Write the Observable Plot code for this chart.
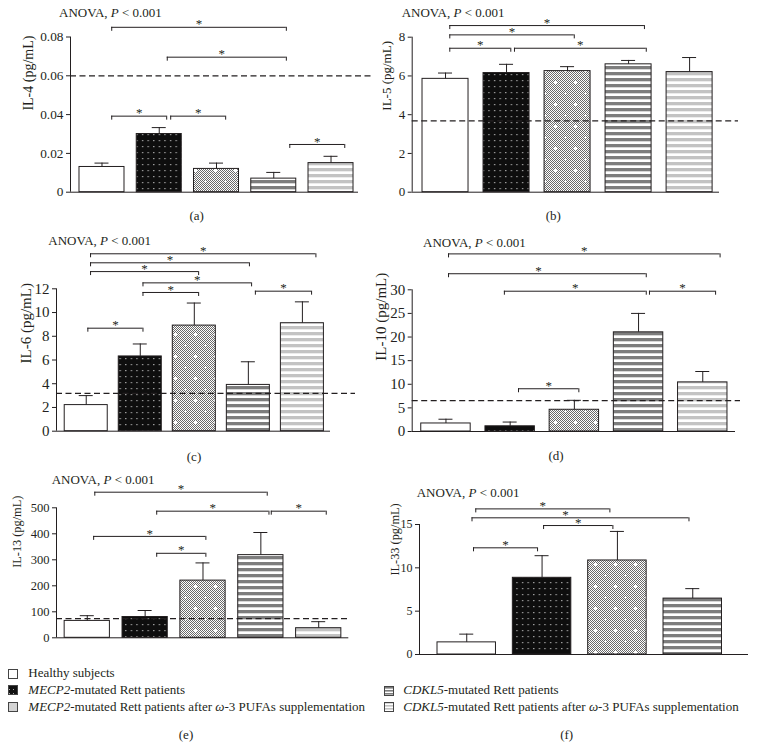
<!DOCTYPE html>
<html><head><meta charset="utf-8">
<script src="https://cdn.jsdelivr.net/npm/d3@7"></script>
<script src="https://cdn.jsdelivr.net/npm/@observablehq/plot@0.6"></script>
<style>
html,body{margin:0;padding:0;background:#fff;}
#root{position:relative;width:760px;height:747px;overflow:hidden;font-family:"Liberation Serif","Times New Roman",serif;}
#root svg{position:absolute;}
</style></head><body>
<div id="root"></div>
<script>
// ---------------- DATA ----------------
const groups = [
  "Healthy subjects",
  "MECP2-mutated Rett patients",
  "MECP2-mutated Rett patients after ω-3 PUFAs supplementation",
  "CDKL5-mutated Rett patients",
  "CDKL5-mutated Rett patients after ω-3 PUFAs supplementation"
];
const panelLetters = ["(a)", "(b)", "(c)", "(d)", "(e)", "(f)"];
const anovaText = "ANOVA, P < 0.001";

// bracket = [from group position, to group position, level, (optional) asterisk position]
const il4Label = "IL-4 (pg/mL)";
const il4Mean = [0.013, 0.030, 0.012, 0.007, 0.015];
const il4Sem  = [0.002, 0.0033, 0.003, 0.0032, 0.0035];
const il4Ref  = 0.06;
const il4Ticks = [0, 0.02, 0.04, 0.06, 0.08];
const il4Brackets = [[1.17, 4.22, 0.085], [2.14, 4.22, 0.0696, 3.09], [1.17, 2.13, 0.0392], [2.2, 3.16, 0.0392], [4.28, 5.24, 0.0246]];

const il5Label = "IL-5 (pg/mL)";
const il5Mean = [5.85, 6.15, 6.25, 6.6, 6.2];
const il5Sem  = [0.3, 0.45, 0.23, 0.2, 0.75];
const il5Ref  = 3.68;
const il5Ticks = [0, 2, 4, 6, 8];
const il5Brackets = [[1.07, 4.26, 8.6], [1.07, 3.11, 8.12], [1.07, 2.07, 7.43], [2.13, 4.29, 7.43]];

const il6Label = "IL-6 (pg/mL)";
const il6Mean = [2.2, 6.3, 8.9, 3.9, 9.1];
const il6Sem  = [0.8, 1.05, 1.9, 1.95, 1.8];
const il6Ref  = 3.18;
const il6Ticks = [0, 2, 4, 6, 8, 10, 12];
const il6Brackets = [[1.08, 5.25, 14.95], [1.08, 4.02, 14.19], [1.08, 3.08, 13.45], [2.05, 4.06, 12.5], [2.05, 3.08, 11.69], [4.13, 5.17, 11.8], [1.03, 2.05, 8.68]];

const il10Label = "IL-10 (pg/mL)";
const il10Mean = [1.7, 1.1, 4.6, 21.0, 10.4];
const il10Sem  = [0.9, 0.9, 2.0, 4.0, 2.3];
const il10Ref  = 6.55;
const il10Ticks = [0, 5, 10, 15, 20, 25, 30];
const il10Brackets = [[1.04, 5.27, 37.6], [1.04, 4.12, 33.4, 2.44], [1.91, 4.12, 29.7], [4.17, 5.2, 29.7], [2.13, 3.07, 9.05]];

const il13Label = "IL-13 (pg/mL)";
const il13Mean = [65, 80, 220, 318, 37];
const il13Sem  = [20, 25, 68, 87, 25];
const il13Ref  = 74;
const il13Ticks = [0, 100, 200, 300, 400, 500];
const il13Brackets = [[1.13, 4.11, 560], [2.2, 4.14, 487], [4.18, 5.13, 487], [1.11, 3.05, 390], [2.2, 3.05, 325]];

const il33Label = "IL-33 (pg/mL)";
const il33Mean = [1.4, 8.85, 10.85, 6.45];
const il33Sem  = [0.95, 2.55, 3.35, 1.15];
const il33Ref  = null;
const il33Ticks = [0, 5, 10, 15];
const il33Brackets = [[1.12, 2.9, 16.8], [1.07, 3.95, 15.77, 2.31], [2.02, 2.94, 14.88], [1.09, 1.94, 12.31]];

// ---------------- STYLE / LAYOUT ----------------
const ink = "#231f20";
const FONT = "'Liberation Serif','Times New Roman',serif";
const groupFills = ["#ffffff", "url(#pDots)", "url(#pCheck)", "url(#pDark)", "url(#pLight)"];
const swatchFills = ["#ffffff", "url(#pSwDots)", "#d3d3d3", "url(#pSwDark)", "url(#pSwLight)"];

const panels = [
  {label: il4Label, mean: il4Mean, sem: il4Sem, ref: il4Ref, ticks: il4Ticks, brackets: il4Brackets},
  {label: il5Label, mean: il5Mean, sem: il5Sem, ref: il5Ref, ticks: il5Ticks, brackets: il5Brackets},
  {label: il6Label, mean: il6Mean, sem: il6Sem, ref: il6Ref, ticks: il6Ticks, brackets: il6Brackets},
  {label: il10Label, mean: il10Mean, sem: il10Sem, ref: il10Ref, ticks: il10Ticks, brackets: il10Brackets},
  {label: il13Label, mean: il13Mean, sem: il13Sem, ref: il13Ref, ticks: il13Ticks, brackets: il13Brackets},
  {label: il33Label, mean: il33Mean, sem: il33Sem, ref: il33Ref, ticks: il33Ticks, brackets: il33Brackets}
];

const layouts = [
  {left: 0,   top: 0,   width: 380, height: 200, ml: 70,   mr: 22,   mt: 36.5, mb: 8.3, xd: [0.45, 5.48],  hw: 0.393, refExt: 14, labDx: -41.7, labDy: -4,  tickFs: 13.3, labFs: 14,   anova: [59, 17],       cap: [196.7, 220]},
  {left: 380, top: 0,   width: 380, height: 200, ml: 31.7, mr: 41,   mt: 36.7, mb: 8.3, xd: [0.454, 5.49], hw: 0.377, refExt: 19, labDx: -25,   labDy: -4,  tickFs: 13,   labFs: 13,   anova: [401.7, 17],    cap: [553.3, 220]},
  {left: 0,   top: 230, width: 380, height: 210, ml: 56,   mr: 50,   mt: 58.3, mb: 9.3, xd: [0.45, 5.52],  hw: 0.398, refExt: 25, labDx: -30,   labDy: 3.5, tickFs: 15,   labFs: 15,   anova: [48.3, 245],    cap: [194, 461]},
  {left: 380, top: 230, width: 380, height: 210, ml: 31.7, mr: 25,   mt: 59.3, mb: 9,   xd: [0.474, 5.51], hw: 0.385, refExt: 5,  labDx: -31,   labDy: 0,   tickFs: 15,   labFs: 15,   anova: [423, 246.7],   cap: [556, 460]},
  {left: 0,   top: 460, width: 380, height: 185, ml: 56,   mr: 31.7, mt: 47.3, mb: 7.7, xd: [0.468, 5.52], hw: 0.391, refExt: 0,  labDx: -39.3, labDy: -5,  tickFs: 12.5, labFs: 12.3, anova: [51.7, 484],    cap: [186, 739]},
  {left: 380, top: 460, width: 380, height: 200, ml: 39,   mr: 12,   mt: 64,   mb: 6,   xd: [0.373, 4.74], hw: 0.388, refExt: 0,  labDx: -24,   labDy: -14, tickFs: 12,   labFs: 12.3, anova: [416.7, 496.7], cap: [566.7, 739]}
];

const legendPos = [
  {sx: 8.5, sy: 669.5, tx: 28.3, ty: 677.3},
  {sx: 8.5, sy: 685.5, tx: 28.3, ty: 694.3},
  {sx: 8.5, sy: 702.5, tx: 28.3, ty: 711},
  {sx: 384.5, sy: 686.5, tx: 403.3, ty: 694.3},
  {sx: 384.5, sy: 702.5, tx: 403.3, ty: 711}
];

// ---------------- OVERLAY + PATTERNS ----------------
const root = d3.select("#root");
const overlay = root.append("svg")
  .attr("width", 760).attr("height", 747)
  .style("left", "0px").style("top", "0px")
  .attr("font-family", FONT).attr("fill", ink);
const defs = overlay.append("defs");

function pattern(id, w, h) {
  return defs.append("pattern").attr("id", id).attr("patternUnits", "userSpaceOnUse").attr("width", w).attr("height", h);
}
{ // black with small light dots
  const p = pattern("pDots", 5.6, 6);
  p.append("rect").attr("width", 5.6).attr("height", 6).attr("fill", "#0e0e0e");
  p.append("rect").attr("x", 2).attr("y", 2).attr("width", 1.2).attr("height", 1.2).attr("fill", "#b8b8b8");
}
{ // fine checker with white crosses
  const W = 20, H = 22;
  const p = pattern("pCheck", W, H);
  p.append("rect").attr("width", W).attr("height", H).attr("fill", "#ffffff");
  for (let y = 0; y < H; y++) for (let x = y % 2; x < W; x += 2)
    p.append("rect").attr("x", x).attr("y", y).attr("width", 1).attr("height", 1).attr("fill", "#6a6a6a");
  for (const [cx, cy] of [[5, 5], [15, 16]]) {
    p.append("rect").attr("x", cx - 1).attr("y", cy).attr("width", 3).attr("height", 1).attr("fill", "#fff");
    p.append("rect").attr("x", cx).attr("y", cy - 1).attr("width", 1).attr("height", 3).attr("fill", "#fff");
  }
}
{ // dark stripes
  const p = pattern("pDark", 6, 6);
  p.append("rect").attr("width", 6).attr("height", 6).attr("fill", "#fff");
  p.append("rect").attr("width", 6).attr("height", 3.3).attr("fill", "#7d7d7d");
}
{ // light stripes
  const p = pattern("pLight", 6, 6);
  p.append("rect").attr("width", 6).attr("height", 6).attr("fill", "#fff");
  p.append("rect").attr("width", 6).attr("height", 3.3).attr("fill", "#c3c3c3");
}
{ // legend swatch patterns
  const p = pattern("pSwDots", 4, 4);
  p.append("rect").attr("width", 4).attr("height", 4).attr("fill", "#111");
  p.append("rect").attr("x", 1).attr("y", 1).attr("width", 1).attr("height", 1).attr("fill", "#aaa");
  const q = pattern("pSwDark", 3, 3);
  q.append("rect").attr("width", 3).attr("height", 3).attr("fill", "#fff");
  q.append("rect").attr("width", 3).attr("height", 1.6).attr("fill", "#7d7d7d");
  const r = pattern("pSwLight", 3, 3);
  r.append("rect").attr("width", 3).attr("height", 3).attr("fill", "#fff");
  r.append("rect").attr("width", 3).attr("height", 1.6).attr("fill", "#c3c3c3");
}

// ---------------- PANELS ----------------
function drawPanel(p, L) {
  const rows = p.mean.map((m, i) => ({g: i + 1, mean: m, top: m + p.sem[i], fill: groupFills[i]}));
  const br = p.brackets.map(([a, b, y, s]) => ({a, b, y, mid: s != null ? s : (a + b) / 2}));
  const marks = [
    Plot.rectY(rows, {x1: d => d.g - L.hw, x2: d => d.g + L.hw, y1: 0, y2: "mean", fill: "fill", stroke: ink, strokeWidth: 1}),
    Plot.ruleX(rows, {x: "g", y1: "mean", y2: "top", stroke: ink, strokeWidth: 1}),
    Plot.ruleY(rows, {x1: "g", x2: "g", y: "top", insetLeft: -7, insetRight: -7, stroke: ink, strokeWidth: 1}),
    Plot.ruleY([0], {stroke: ink, strokeWidth: 1}),
    Plot.ruleX([L.xd[0]], {stroke: ink, strokeWidth: 1}),
    Plot.axisY({ticks: p.ticks, tickSize: 4, tickPadding: 3, tickFormat: d => String(d), label: null, fontSize: L.tickFs}),
    Plot.text([p.label], {text: d => d, frameAnchor: "left", rotate: -90, dx: L.labDx, dy: L.labDy, fontSize: L.labFs}),
    Plot.ruleY(br, {x1: "a", x2: "b", y: "y", stroke: ink, strokeWidth: 1}),
    Plot.ruleX(br, {x: "a", y1: "y", y2: "y", insetBottom: -4, stroke: ink, strokeWidth: 1}),
    Plot.ruleX(br, {x: "b", y1: "y", y2: "y", insetBottom: -4, stroke: ink, strokeWidth: 1}),
    Plot.text(br, {x: "mid", y: "y", text: () => "*", dy: -3, fontSize: 13})
  ];
  if (p.ref != null) {
    marks.push(Plot.ruleY([p.ref], {x1: L.xd[0], x2: L.xd[1], insetRight: -L.refExt, stroke: ink, strokeWidth: 1.2, strokeDasharray: "6,3.5"}));
  }
  const svg = Plot.plot({
    width: L.width, height: L.height,
    marginLeft: L.ml, marginRight: L.mr, marginTop: L.mt, marginBottom: L.mb,
    x: {domain: L.xd, axis: null},
    y: {domain: [0, p.ticks[p.ticks.length - 1]]},
    color: {type: "identity"},
    style: {fontFamily: FONT, fontSize: "13px", color: ink, background: "transparent", overflow: "visible"},
    marks
  });
  svg.style.left = L.left + "px";
  svg.style.top = L.top + "px";
  root.node().appendChild(svg);
}
panels.forEach((p, i) => drawPanel(p, layouts[i]));

// ---------------- TEXTS: ANOVA, captions, legend ----------------
layouts.forEach((L, i) => {
  const [pre, post] = anovaText.split("P");
  const t = overlay.append("text").attr("x", L.anova[0]).attr("y", L.anova[1]).attr("font-size", 13);
  t.append("tspan").text(pre);
  t.append("tspan").attr("font-style", "italic").text("P");
  t.append("tspan").text(post);
  overlay.append("text").attr("x", L.cap[0]).attr("y", L.cap[1]).attr("font-size", 13)
    .attr("text-anchor", "middle").text(panelLetters[i]);
});

groups.forEach((g, i) => {
  const P = legendPos[i];
  overlay.append("rect").attr("x", P.sx).attr("y", P.sy).attr("width", 9).attr("height", 9)
    .attr("fill", swatchFills[i]).attr("stroke", "#444").attr("stroke-width", 1);
  const t = overlay.append("text").attr("x", P.tx).attr("y", P.ty).attr("font-size", 13);
  const m = g.match(/^(MECP2|CDKL5)(.*)$/);
  let rest = g;
  if (m) { t.append("tspan").attr("font-style", "italic").text(m[1]); rest = m[2]; }
  const parts = rest.split("ω");
  t.append("tspan").text(parts[0]);
  if (parts.length > 1) {
    t.append("tspan").attr("font-style", "italic").text("ω");
    t.append("tspan").text(parts[1]);
  }
});
</script>
</body></html>
